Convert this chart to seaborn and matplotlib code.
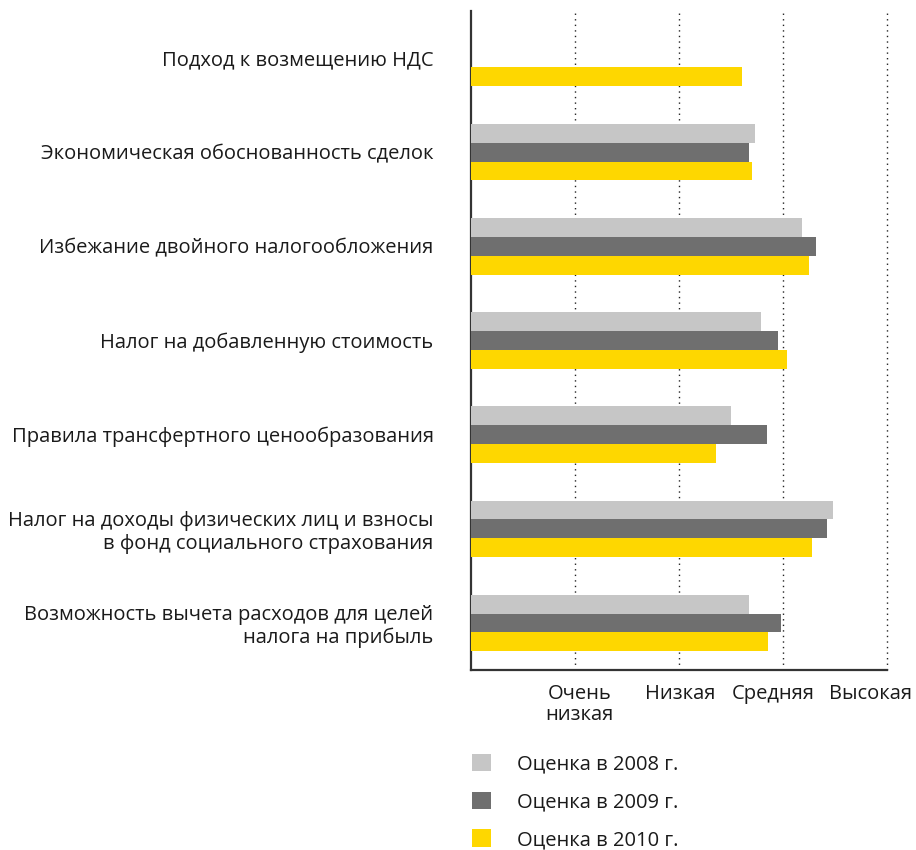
import numpy as np
import pandas as pd
import matplotlib
matplotlib.use("Agg")
import matplotlib.pyplot as plt
import matplotlib.transforms as mtransforms
import seaborn as sns

# Survey categories (top to bottom)
categories = [
    "Подход к возмещению НДС",
    "Экономическая обоснованность сделок",
    "Избежание двойного налогообложения",
    "Налог на добавленную стоимость",
    "Правила трансфертного ценообразования",
    "Налог на доходы физических лиц и взносы\nв фонд социального страхования",
    "Возможность вычета расходов для целей\nналога на прибыль",
]

# Average scores per year (1 = very low ... 4 = high)
scores_2008 = [np.nan, 2.73, 3.18, 2.79, 2.50, 3.48, 2.67]
scores_2009 = [np.nan, 2.67, 3.32, 2.95, 2.85, 3.42, 2.98]
scores_2010 = [2.61, 2.70, 3.25, 3.04, 2.36, 3.28, 2.86]

series_labels = ["Оценка в 2008 г.", "Оценка в 2009 г.", "Оценка в 2010 г."]
series_colors = ["#C6C6C6", "#6F6F6F", "#FED700"]

x_ticks = [1, 2, 3, 4]
x_tick_labels = ["Очень\nнизкая", "Низкая", "Средняя", "Высокая"]

rows = []
for label, vals in zip(series_labels, [scores_2008, scores_2009, scores_2010]):
    for cat, v in zip(categories, vals):
        rows.append({"category": cat, "series": label, "value": v})
df = pd.DataFrame(rows)

sns.set_style("white")
plt.rcParams["font.family"] = ["Open Sans", "DejaVu Sans"]
plt.rcParams["text.color"] = "#1a1a1a"

FS = 14.5

fig = plt.figure(figsize=(9.16, 8.5), dpi=100)
ax = fig.add_axes([471 / 916, 1 - 670 / 850, (887 - 471) / 916, (670 - 11) / 850])

sns.barplot(
    data=df, y="category", x="value", hue="series",
    order=categories, hue_order=series_labels,
    palette=series_colors, saturation=1, width=0.6,
    errorbar=None, orient="h", ax=ax, zorder=3,
    linewidth=0, edgecolor="none",
)

ax.set_xlim(0, 4)
ax.set_ylim(len(categories) - 0.5, -0.5)
ax.set_xlabel("")
ax.set_ylabel("")

for xv in x_ticks:
    ax.axvline(xv, color="#222222", linestyle=(0, (1, 3)), linewidth=1.0,
               zorder=1, clip_on=False)

ax.set_xticks(x_ticks)
ax.set_xticklabels(x_tick_labels, fontsize=FS, color="#1a1a1a", linespacing=1.1)
ax.tick_params(axis="x", length=0, pad=10)
ax.tick_params(axis="y", length=0, pad=27, labelsize=FS, labelcolor="#1a1a1a")
for t in ax.get_yticklabels():
    t.set_linespacing(1.15)

# small horizontal nudges of the x labels (pixels) so they sit evenly and fit the figure
label_shift_px = [4.5, 1.5, -9.5, -17]
for lbl, dx in zip(ax.get_xticklabels(), label_shift_px):
    lbl.set_transform(lbl.get_transform() + mtransforms.ScaledTranslation(dx / 100, 0, fig.dpi_scale_trans))

for side in ["top", "right"]:
    ax.spines[side].set_visible(False)
for side in ["left", "bottom"]:
    ax.spines[side].set_color("#333333")
    ax.spines[side].set_linewidth(1.6)

handles, labels = ax.get_legend_handles_labels()
ax.get_legend().remove()
fig.legend(
    handles, labels, loc="upper left",
    bbox_to_anchor=(472 / 916, 1 - 754 / 850),
    frameon=False, fontsize=FS, handlelength=0.95, handleheight=0.95,
    handletextpad=1.3, labelspacing=0.85, borderpad=0, borderaxespad=0,
)

fig.savefig("out.png", dpi=100)
